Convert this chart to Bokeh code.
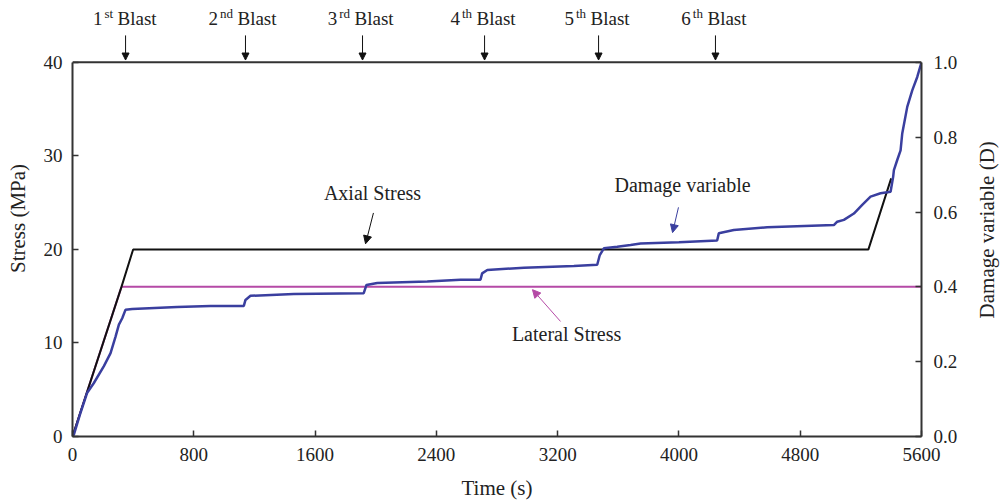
import math
from bokeh.plotting import figure
from bokeh.layouts import row
from bokeh.core.properties import value
from bokeh.models import (Range1d, LinearAxis, FixedTicker, PrintfTickFormatter,
                          Label, Arrow, NormalHead, Span)
from bokeh.embed import file_html
from bokeh.resources import INLINE

# ---------------- data ----------------
time_axial = [0, 323, 400, 5250, 5400]
stress_axial = [0, 16, 20, 20, 27.6]

time_lateral = [0, 323, 5600]
stress_lateral = [0, 16, 16]

time_damage = [0, 9, 50, 97, 141, 207, 251, 284, 306, 328,
               350, 394, 690, 910, 1130, 1141, 1174, 1460, 1921, 1939,
               2010, 2340, 2560, 2691, 2702, 2736, 2978, 3307, 3461, 3478,
               3505, 3593, 3681, 3747, 4000, 4252, 4263, 4362, 4582, 5022,
               5044, 5088, 5154, 5209, 5264, 5330, 5396, 5413, 5418, 5440,
               5462, 5473, 5506, 5539, 5572, 5600]
damage = [0, 0.005, 0.06, 0.117, 0.143, 0.188, 0.223, 0.267, 0.299, 0.316,
          0.339, 0.341, 0.346, 0.349, 0.349, 0.365, 0.376, 0.381, 0.383, 0.405,
          0.41, 0.414, 0.419, 0.419, 0.436, 0.445, 0.451, 0.456, 0.459, 0.485,
          0.503, 0.507, 0.512, 0.516, 0.519, 0.524, 0.543, 0.552, 0.559, 0.565,
          0.574, 0.579, 0.596, 0.619, 0.641, 0.65, 0.654, 0.694, 0.712, 0.739,
          0.765, 0.81, 0.881, 0.925, 0.961, 1.0]

blast_times = [350, 1141, 1913, 2718, 3470, 4241]
blast_numbers = ["1", "2", "3", "4", "5", "6"]
blast_suffixes = ["st", "nd", "rd", "th", "th", "th"]

time_ticks = [0, 800, 1600, 2400, 3200, 4000, 4800, 5600]
stress_ticks = [0, 10, 20, 30, 40]
damage_ticks = [0.0, 0.2, 0.4, 0.6, 0.8, 1.0]

STRESS_MAX = 40
DAMAGE_MAX = 1.0
TIME_MAX = 5600

# ---------------- styles ----------------
FONT = "Liberation Serif"
AXIS_COLOR = "#333333"
TEXT_COLOR = "#222222"
AXIAL_COLOR = "#111111"
LATERAL_COLOR = "#b54aa6"
DAMAGE_COLOR = "#3a3f9f"
AXIS_LABEL_SIZE = "21px"

# frame extends above the stress=40 border so the blast markers live inside it
TOP_EXTRA = 62 / 375  # fraction of the 0..40 span reserved above
y_top = STRESS_MAX * (1 + TOP_EXTRA)
d_top = DAMAGE_MAX * (1 + TOP_EXTRA)

p = figure(width=965, height=502, output_backend="svg", toolbar_location=None,
           x_range=Range1d(0, TIME_MAX), y_range=Range1d(0, y_top),
           min_border_left=72, min_border_right=44,
           min_border_top=0, min_border_bottom=65)
p.extra_y_ranges = {"D": Range1d(0, d_top)}
p.grid.visible = False
p.background_fill_color = "white"
p.border_fill_color = "white"
p.outline_line_color = None

def style_axis(ax):
    ax.axis_line_color = AXIS_COLOR
    ax.axis_line_width = 2
    ax.major_tick_line_color = AXIS_COLOR
    ax.major_tick_line_width = 1.5
    ax.major_tick_in = 6
    ax.major_tick_out = 0
    ax.minor_tick_line_color = None
    ax.major_label_text_font = FONT
    ax.major_label_text_font_size = "19px"
    ax.major_label_text_color = TEXT_COLOR
    ax.axis_label_text_font = FONT
    ax.axis_label_text_font_size = AXIS_LABEL_SIZE
    ax.axis_label_text_font_style = "normal"
    ax.axis_label_text_color = TEXT_COLOR

xa = p.xaxis[0]
style_axis(xa)
xa.ticker = FixedTicker(ticks=time_ticks)
xa.axis_label = "Time (s)"
xa.major_label_standoff = 11
xa.axis_label_standoff = 12

ya = p.yaxis[0]
style_axis(ya)
ya.ticker = FixedTicker(ticks=stress_ticks)
ya.bounds = (0, STRESS_MAX)
ya.axis_label = "Stress (MPa)"
ya.major_label_standoff = 10
ya.axis_label_standoff = 11

ra = LinearAxis(y_range_name="D")
style_axis(ra)
ra.ticker = FixedTicker(ticks=damage_ticks)
ra.bounds = (0, DAMAGE_MAX)
ra.formatter = PrintfTickFormatter(format="%.1f")
ra.major_label_standoff = 12
p.add_layout(ra, "right")

# top border of the chart box
p.add_layout(Span(location=STRESS_MAX, dimension="width",
                  line_color=AXIS_COLOR, line_width=2))

# ---------------- lines ----------------
p.line(time_lateral, stress_lateral, line_color=LATERAL_COLOR, line_width=2)
p.line(time_axial, stress_axial, line_color=AXIAL_COLOR, line_width=2)
p.line(time_damage, damage, y_range_name="D", line_color=DAMAGE_COLOR, line_width=2.5)

# ---------------- curve annotations ----------------
def add_label(x, y, text, size="20px", align="center", baseline="middle", x_offset=0):
    p.add_layout(Label(x=x, y=y, text=text, text_font=FONT, text_font_size=size,
                       text_color=TEXT_COLOR, text_align=align, text_baseline=baseline,
                       x_offset=x_offset))

def add_arrow(x0, y0, x1, y1, color, head=8):
    p.add_layout(Arrow(x_start=x0, y_start=y0, x_end=x1, y_end=y1,
                       line_color=color, line_width=1,
                       end=NormalHead(size=head, fill_color=color, line_color=color, line_width=1)))

add_label(1979, 26.0, "Axial Stress")
add_arrow(1985, 23.9, 1933, 20.6, AXIAL_COLOR)

add_label(4024, 26.9, "Damage variable")
add_arrow(3997, 24.5, 3958, 21.8, DAMAGE_COLOR)

add_label(3259, 11.0, "Lateral Stress")
add_arrow(3219, 12.3, 3034, 15.7, LATERAL_COLOR)

# ---------------- blast markers ----------------
SUP_EM = {"st": 0.667, "nd": 1.0, "rd": 0.833, "th": 0.778}
SUP_PX = 13
for t, n, s in zip(blast_times, blast_numbers, blast_suffixes):
    add_arrow(t, 42.88, t, 40.25, AXIAL_COLOR, head=7)
    add_label(t, 44.7, "Blast", size="19px", align="left", baseline="alphabetic", x_offset=-8)
    sup_w = SUP_EM[s] * SUP_PX
    add_label(t, 45.25, s, size=f"{SUP_PX}px", align="right", baseline="alphabetic", x_offset=-12.5)
    add_label(t, 44.7, n, size="19px", align="right", baseline="alphabetic", x_offset=-14.5 - sup_w)

# ---------------- right-hand axis title (reads bottom to top) ----------------
side = figure(width=35, height=502, output_backend="svg", toolbar_location=None,
              x_range=Range1d(0, 35), y_range=Range1d(0, 502),
              x_axis_location=None, y_axis_location=None, min_border=0)
side.grid.visible = False
side.outline_line_color = None
side.background_fill_color = "white"
side.border_fill_color = "white"
side.text(x=[21], y=[238], text=["Damage variable (D)"], angle=math.pi / 2,
          text_align="center", text_baseline="middle",
          text_font=value(FONT), text_font_size=AXIS_LABEL_SIZE, text_color=TEXT_COLOR)

layout = row(p, side)
open("out.html", "w").write(file_html(layout, INLINE))
